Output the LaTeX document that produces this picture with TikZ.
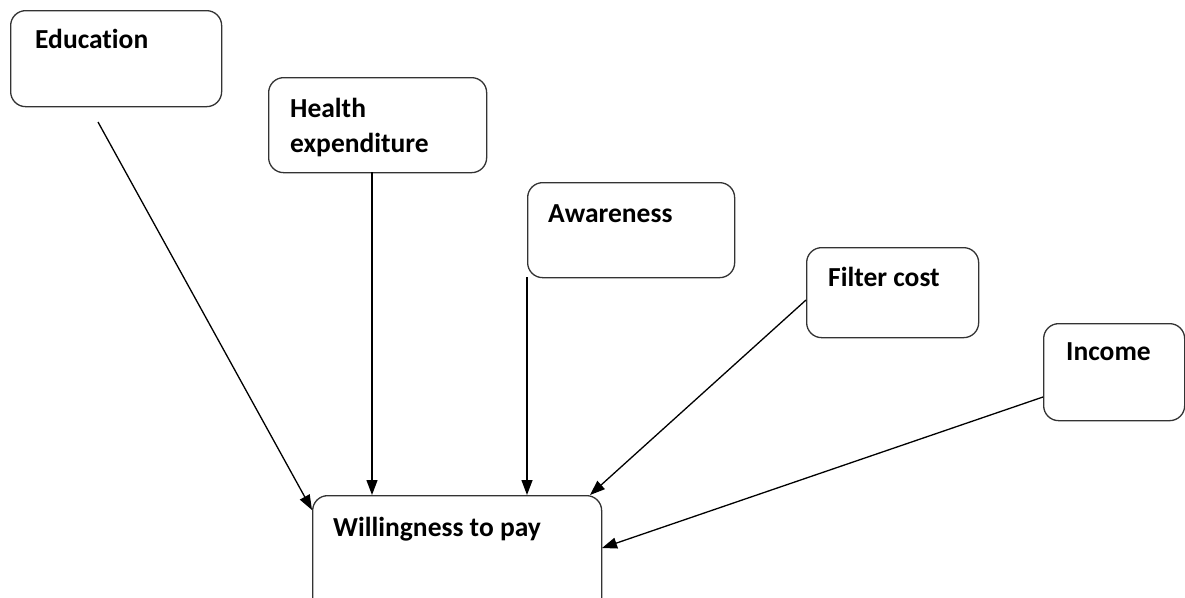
\documentclass[tikz,border=0pt]{standalone}
\usepackage{fontspec}
\setmainfont[Ligatures={NoCommon}]{Carlito}
\usetikzlibrary{arrows.meta}
\tikzset{
  box/.style={draw=black!80, line width=1.3pt, rounded corners=15pt, rectangle, inner sep=0pt, anchor=north west},
  lbl/.style={anchor=base west, inner sep=0pt, font=\fontsize{27.5}{36}\selectfont\bfseries, align=left},
  conn/.style={draw=black, line width=1.3pt, -{Triangle[length=15pt,width=11pt]}}
}
\begin{document}
\begin{tikzpicture}[x=1pt,y=-1pt]
\useasboundingbox (0,0) rectangle (1185,597);
\clip (0,0) rectangle (1185,597);
\fill[white] (0,0) rectangle (1185,597);
% boxes
\node[box, minimum width=211pt, minimum height=96pt] (edu) at (10,10) {};
\node[box, minimum width=218pt, minimum height=95pt] (hea) at (268,77) {};
\node[box, minimum width=207pt, minimum height=95pt] (awa) at (527,182) {};
\node[box, minimum width=172pt, minimum height=90pt] (fil) at (806,247) {};
\node[box, minimum width=141pt, minimum height=97pt] (inc) at (1043,323) {};
\node[box, minimum width=289pt, minimum height=130pt] (wtp) at (312,495) {};
% labels
\node[lbl] (edut) at (35,48) {Education};
\node[lbl] (heat1) at (290,117) {Health};
\node[lbl] (heat2) at (290,152) {expenditure};
\node[lbl] (awat) at (548,222) {Awareness};
\node[lbl] (filt) at (828,286) {Filter cost};
\node[lbl] (inct) at (1066,360) {Income};
\node[lbl] (wtpt) at (333,536) {Willingness to pay};
% connector anchors
\coordinate (edus) at (98,122);
\coordinate (wtpa) at (312,510);
\coordinate (wtpb) at (372,495);
\coordinate (wtpc) at (527,495);
\coordinate (wtpd) at (590,495);
\coordinate (wtpe) at (602,548);
\coordinate (heas) at (372,172);
\coordinate (awas) at (527,277);
\coordinate (fils) at (806,300);
\coordinate (incs) at (1043,397);
\draw[conn] (edus) -- (wtpa);
\draw[conn] (heas) -- (wtpb);
\draw[conn] (awas) -- (wtpc);
\draw[conn] (fils) -- (wtpd);
\draw[conn] (incs) -- (wtpe);
\end{tikzpicture}
\end{document}
